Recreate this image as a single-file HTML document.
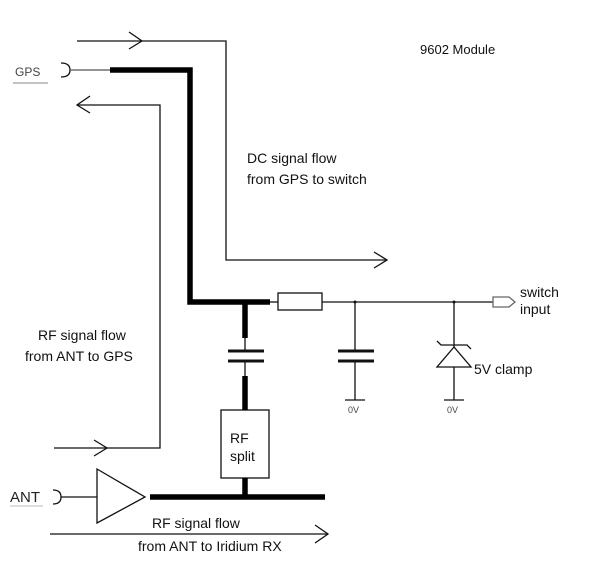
<!DOCTYPE html>
<html><head><style>
html,body{margin:0;padding:0;background:#fff;}
svg{display:block;}
text{font-family:"Liberation Sans",sans-serif;font-size:14px;fill:#111;}
</style></head><body>
<svg width="616" height="574" viewBox="0 0 616 574" xmlns="http://www.w3.org/2000/svg">
<g fill="none" stroke="#111" stroke-width="1.3">
<polyline points="77,41 226,41 226,260 387,260"/>
<polyline points="129,32 142,41 129,49"/>
<polyline points="374,252 387,260 374,268"/>
<polyline points="77,105 160,105 160,448 54,448"/>
<polyline points="90,96 77,105 90,113"/>
<polyline points="94,440 107,448 94,456"/>
<path d="M61,63 Q70,63 70,70 Q70,77 61,77"/>
<line x1="70" y1="70" x2="110" y2="70" stroke="#555"/>
<rect x="278" y="293" width="44" height="17"/>
<line x1="270" y1="302" x2="278" y2="302"/>
<line x1="322" y1="302" x2="493" y2="302"/>
<path d="M493,297 L509,297 L515,302 L509,307 L493,307 Z" stroke="#666"/>
<line x1="355" y1="302" x2="355" y2="351"/>
<line x1="355" y1="361" x2="355" y2="400"/>
<line x1="345" y1="400" x2="365" y2="400"/>
<line x1="454" y1="302" x2="454" y2="400"/>
<line x1="444" y1="400" x2="464" y2="400"/>
<polygon points="454,347 437,367 471,367" fill="#fff"/>
<polyline points="437,341 441,345 467,345 471,349"/>
<line x1="245" y1="336" x2="245" y2="351"/>
<line x1="245" y1="361" x2="245" y2="376"/>
<rect x="221" y="410" width="48" height="68"/>
<path d="M53,490 Q61,490 61,497 Q61,504 53,504"/>
<line x1="61" y1="497" x2="97" y2="497"/>
<polygon points="97,469 145,497 97,523"/>
<line x1="50" y1="534" x2="328" y2="534"/>
<polyline points="315,525 328,534 315,543"/>
</g>
<g fill="#111" stroke="none">
<circle cx="355" cy="302" r="1.5"/><circle cx="454" cy="302" r="1.5"/>
<rect x="228" y="349.5" width="36" height="3"/>
<rect x="228" y="359.5" width="36" height="3"/>
<rect x="338" y="349.5" width="36" height="3"/>
<rect x="338" y="359.5" width="36" height="3"/>
</g>
<g fill="none" stroke="#000" stroke-width="5.5" stroke-linecap="butt">
<polyline points="110,70 190,70 190,302 270,302"/>
<line x1="245" y1="302" x2="245" y2="338"/>
<line x1="245" y1="376" x2="245" y2="410"/>
<line x1="245" y1="478" x2="245" y2="497"/>
<line x1="150" y1="497" x2="325" y2="497"/>
</g>
<line x1="13" y1="83" x2="48" y2="83" stroke="#888" stroke-width="1"/>
<line x1="10" y1="506" x2="43" y2="506" stroke="#bbb" stroke-width="1"/>
<text x="15" y="76" style="font-size:12px;fill:#444">GPS</text>
<text x="10" y="502" style="fill:#222;font-size:15px">ANT</text>
<text x="420" y="54" style="font-size:13px">9602 Module</text>
<text x="247" y="163">DC signal flow</text>
<text x="247" y="184">from GPS to switch</text>
<text x="38" y="340">RF signal flow</text>
<text x="25" y="361">from ANT to GPS</text>
<text x="520" y="297">switch</text>
<text x="520" y="314">input</text>
<text x="474" y="374">5V clamp</text>
<text x="348" y="413" style="font-size:9px;fill:#444">0V</text>
<text x="447" y="413" style="font-size:9px;fill:#444">0V</text>
<text x="230" y="443">RF</text>
<text x="230" y="461">split</text>
<text x="152" y="528">RF signal flow</text>
<text x="138" y="551">from ANT to  Iridium RX</text>
</svg>
</body></html>
